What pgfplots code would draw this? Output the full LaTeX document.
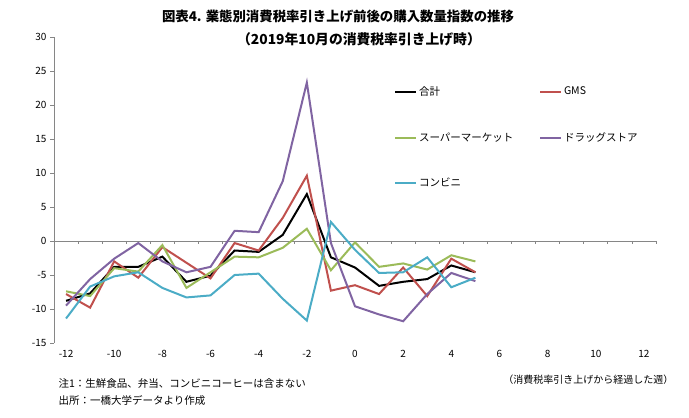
\documentclass[border=0pt]{standalone}
\usepackage{fontspec}
\setmainfont{Noto Sans CJK JP}
\usepackage{pgfplots}
\usepackage{pgfplotstable}
\pgfplotsset{compat=1.18}
\definecolor{cBlack}{HTML}{000000}
\definecolor{cRed}{HTML}{C0504D}
\definecolor{cGreen}{HTML}{9BBB59}
\definecolor{cPurple}{HTML}{8064A2}
\definecolor{cCyan}{HTML}{4BACC6}
\definecolor{axgray}{HTML}{868686}
\pgfplotstableread{
w total gms super drug conv
-12 -8.8 -7.8 -7.4 -9.5 -11.4
-11 -7.7 -9.8 -8.1 -5.6 -6.7
-10 -3.8 -3.0 -4.0 -2.6 -5.2
-9 -3.8 -5.4 -4.5 -0.3 -4.6
-8 -2.3 -0.9 -0.6 -3.0 -6.9
-7 -6.0 -3.2 -6.9 -4.6 -8.3
-6 -5.1 -5.5 -4.6 -3.8 -8.0
-5 -1.4 -0.3 -2.3 1.5 -5.0
-4 -1.6 -1.4 -2.4 1.3 -4.8
-3 0.9 3.4 -1.0 8.8 -8.5
-2 6.9 9.6 1.8 23.3 -11.7
-1 -2.4 -7.3 -4.3 -0.3 2.8
0 -3.9 -6.5 -0.2 -9.6 -1.3
1 -6.6 -7.8 -3.8 -10.8 -4.7
2 -6.0 -3.9 -3.3 -11.8 -4.6
3 -5.6 -8.1 -4.2 -7.8 -2.4
4 -3.6 -2.6 -2.1 -4.7 -6.8
5 -4.6 -4.6 -3.0 -5.9 -5.4
}\data
\begin{document}
\begin{tikzpicture}[x=1pt,y=1pt]
\useasboundingbox (0,0) rectangle (689,418);
\node[font=\bfseries\fontsize{13.4}{15}\selectfont] at (338,402) {図表4. 業態別消費税率引き上げ前後の購入数量指数の推移};
\node[font=\bfseries\fontsize{13.8}{15}\selectfont] at (359,379) {（2019年10月の消費税率引き上げ時）};
\begin{axis}[
  at={(54pt,75pt)}, anchor=south west,
  scale only axis, width=602pt, height=306pt,
  xmin=-12.5, xmax=12.5, ymin=-15, ymax=30,
  clip=false,
  axis y line*=left, axis x line*=bottom,
  x axis line style={draw=none},
  y axis line style={axgray, line width=0.75pt, -},
  tick align=outside,
  major tick length=4pt,
  ytick={-15,-10,...,30},
  xtick={-12,-10,...,12},
  x tick style={draw=none},
  y tick style={axgray, line width=0.75pt},
  minor tick num=0,
  /pgf/number format/assume math mode=true,
  yticklabel style={font=\fontsize{10}{12}\selectfont},
  xticklabel style={font=\fontsize{10}{12}\selectfont},
  legend columns=2,
  legend cell align=left,
  legend style={draw=none, fill=none, inner sep=0pt, outer sep=0pt,
    at={(axis cs:1.62,23.0)}, anchor=north west,
    font=\fontsize{10.5}{12}\selectfont, /tikz/row sep=31.5pt},
  legend image code/.code={\draw[#1, line width=2pt] (0pt,0pt) -- (21pt,0pt);},
]
\pgfplotsinvokeforeach{-12.5,-11.5,...,12.5}{
  \draw[axgray, line width=0.75pt] (axis cs:#1,0) -- ++(0pt,-3.5pt);
}
\draw[axgray, line width=0.75pt] (axis cs:-12.5,0) -- (axis cs:12.5,0);
\addplot[cBlack, line width=2pt] table[x=w,y=total]{\data};
\addlegendentry{\makebox[118pt][l]{合計}}
\addplot[cRed, line width=2pt] table[x=w,y=gms]{\data};
\addlegendentry{GMS}
\addplot[cGreen, line width=2pt] table[x=w,y=super]{\data};
\addlegendentry{\makebox[118pt][l]{スーパーマーケット}}
\addplot[cPurple, line width=2pt] table[x=w,y=drug]{\data};
\addlegendentry{ドラッグストア}
\addplot[cCyan, line width=2pt] table[x=w,y=conv]{\data};
\addlegendentry{\makebox[118pt][l]{コンビニ}}
\end{axis}
\node[anchor=east, font=\fontsize{10}{12}\selectfont] at (677,38) {（消費税率引き上げから経過した週）};
\node[anchor=west, font=\fontsize{10.5}{12}\selectfont] at (55,34) {注1：生鮮食品、弁当、コンビニコーヒーは含まない};
\node[anchor=west, font=\fontsize{10.5}{12}\selectfont] at (55,18) {出所：一橋大学データより作成};
\end{tikzpicture}
\end{document}
